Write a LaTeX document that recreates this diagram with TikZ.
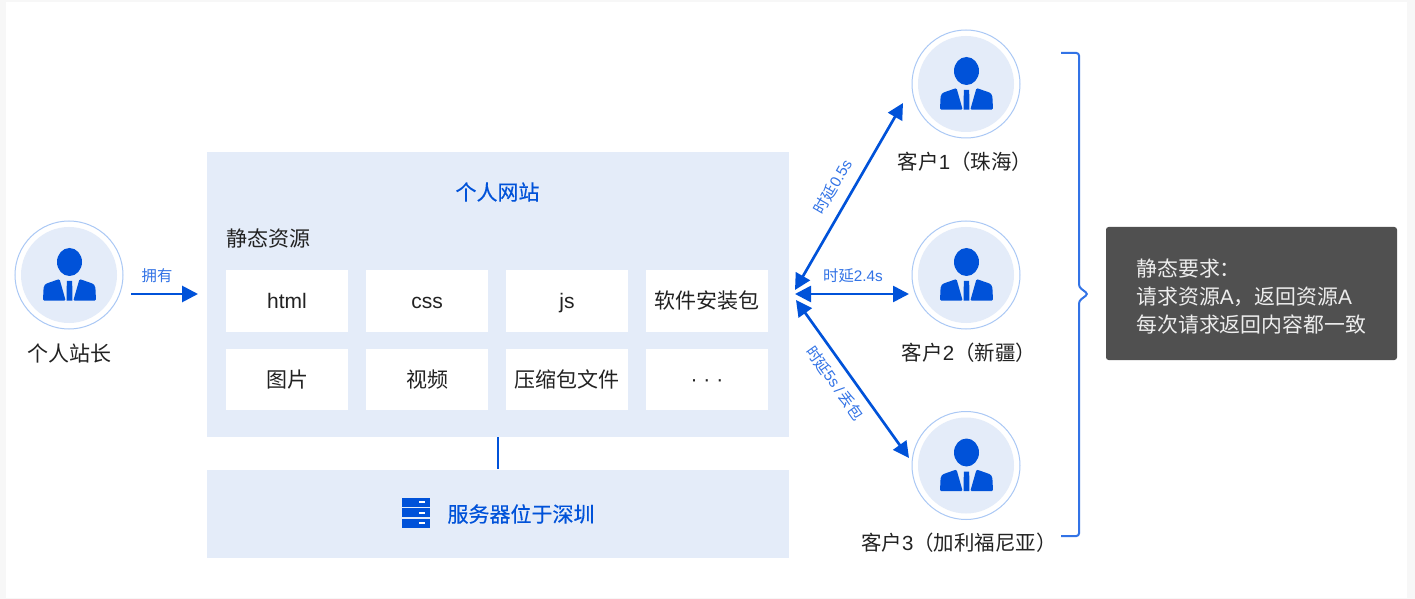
\documentclass[tikz,border=0pt]{standalone}
\usepackage{fontspec}
\setmainfont{Noto Sans CJK SC}
\newfontfamily\latinfont{Liberation Sans}
\newfontfamily\heavyfont[FakeBold=0.35]{Noto Sans CJK SC}
\usetikzlibrary{arrows.meta}
\definecolor{tcblue}{RGB}{0,82,217}
\definecolor{paleblue}{RGB}{228,236,249}
\definecolor{ringblue}{RGB}{170,200,245}
\definecolor{braceblue}{RGB}{50,115,230}
\definecolor{notegray}{RGB}{80,80,80}
\definecolor{inkblack}{RGB}{34,34,34}
\tikzset{every picture/.style={line width=0.75pt}}
\tikzset{
  panel/.style={fill=paleblue,draw=none,inner sep=0pt,minimum width=437pt,anchor=north west},
  tile/.style={fill=white,draw=none,inner sep=0pt,minimum width=91.5pt,minimum height=46pt,text=inkblack,font=\fontsize{15.75}{18}\selectfont},
  latintile/.style={tile,text height=11pt,text depth=0pt,font=\fontsize{15.75}{18}\selectfont\latinfont},
  caption/.style={text=inkblack,inner sep=0pt,font=\fontsize{15.75}{18}\selectfont},
  clientname/.style={caption,font=\fontsize{15.35}{18}\selectfont},
  delay/.style={text=braceblue,inner sep=0pt,font=\fontsize{11.5}{14}\selectfont},
  bluetitle/.style={text=tcblue,inner sep=0pt,font=\fontsize{15.75}{18}\selectfont\heavyfont},
  blueline/.style={draw=tcblue,line width=2.1pt,-{Triangle[length=12pt,width=12pt]}},
  bothways/.style={draw=tcblue,line width=2pt,{Triangle[length=12pt,width=12pt]}-{Triangle[length=12pt,width=12pt]}},
  person/.style={circle,draw=ringblue,line width=0.75pt,fill=white,minimum size=81pt,inner sep=0pt},
  person icon/.pic={
    \begin{scope}[yscale=-1]
    \fill[paleblue] (0,0) circle (48);
    \fill[tcblue] (0.5,-13) ellipse (12.5 and 14);
    \fill[tcblue,rounded corners=1pt] (-26,25.7) -- (-25.5,14) .. controls (-25,10) and (-23.5,9) .. (-21,8) -- (-9.5,4) -- (-3.3,25.7) -- cycle;
    \fill[tcblue,rounded corners=1pt] (27,25.7) -- (26.5,14) .. controls (26,10) and (24.5,9) .. (22,8) -- (10.5,4) -- (4.3,25.7) -- cycle;
    \fill[tcblue] (-2.2,6) -- (3.2,6) -- (3.4,25.7) -- (-2.4,25.7) -- cycle;
    \end{scope}
  }
}

\begin{document}
\begin{tikzpicture}[x=0.75pt,y=0.75pt,yscale=-1,xscale=1]
	\useasboundingbox (0,0) rectangle (1415,599);
	%page frame
	\fill[black!3] (0,0) rectangle (1415,599);
	\fill[white] (5.5,2.5) rectangle (1407,597.5);

	%website panel and server panel
	\node[panel,minimum height=213.4pt] (website) at (206,151.5) {};
	\node[panel,minimum height=66pt] (server) at (206,469) {};
	\draw[tcblue,line width=1.2pt] (website.south) -- (server.north);
	\node[bluetitle] (sitetitle) at (497.5,192) {个人网站};
	\node[caption,anchor=west] (statictitle) at (226,238) {静态资源};

	%tiles
	\node[latintile] (html) at (287,301) {html};
	\node[latintile] (cssfile) at (427,301) {css};
	\node[latintile] (jsfile) at (567,301) {js};
	\node[tile] (installer) at (707,301) {软件安装包};
	\node[tile] (picture) at (287,379.5) {图片};
	\node[tile] (video) at (427,379.5) {视频};
	\node[tile] (archive) at (567,379.5) {压缩包文件};
	\node[latintile] (others) at (707,379.5) {· · ·};

	%server icon
	\foreach \y in {498,508.4,518.8}{
		\fill[tcblue] (401.5,\y) rectangle (430,\y+8.9);
		\fill[white] (419,\y+3.4) rectangle (424.5,\y+5.4);
	}
	\node[bluetitle] (serverlabel) at (521,514) {服务器位于深圳};

	%people
	\node[person] (owner) at (69,275) {};
	\pic at (69,275) {person icon};
	\node[caption] (ownerlabel) at (69,353) {个人站长};
	\node[person] (clienta) at (966,84) {};
	\pic at (966,84) {person icon};
	\node[clientname] (clientalabel) at (965,162) {客户{\latinfont 1}（珠海）};
	\node[person] (clientb) at (966,275) {};
	\pic at (966,275) {person icon};
	\node[clientname] (clientblabel) at (969,353) {客户{\latinfont 2}（新疆）};
	\node[person] (clientc) at (966,465.5) {};
	\pic at (966,465.5) {person icon};
	\node[clientname] (clientclabel) at (959,543) {客户{\latinfont 3}（加利福尼亚）};

	%arrows
	\coordinate (ownerend) at (131,294);
	\coordinate (siteend) at (198,294);
	\coordinate (huba) at (795,290);
	\coordinate (hubb) at (795,294);
	\coordinate (hubc) at (796,300);
	\coordinate (enda) at (903,103);
	\coordinate (endb) at (909,294);
	\coordinate (endc) at (909,458);
	\draw[blueline] (ownerend) -- (siteend);
	\draw[bothways] (huba) -- (enda);
	\draw[bothways] (hubb) -- (endb);
	\draw[bothways] (hubc) -- (endc);
	\node[delay] (ownslabel) at (157,276) {拥有};
	\node[delay,rotate=60] (delaya) at (832.7,186.7) {时延{\latinfont 0.5s}};
	\node[delay] (delayb) at (853,276) {时延{\latinfont 2.4s}};
	\node[delay,rotate=-54.5] (delayc) at (835,383) {时延{\latinfont 5s\,/\,}丢包};

	%bracket
	\draw[draw=braceblue,line width=1.5pt,rounded corners=2pt] (1061,53) -- (1079,53) -- (1079,287) -- (1088,294) -- (1079,301) -- (1079,536) -- (1061,536);

	%note
	\fill[notegray,rounded corners=2pt] (1106,227) rectangle (1397,360);
	\node[text=white!93!black,anchor=north west,inner sep=0pt,align=left,font=\fontsize{15.65}{21}\selectfont] (note) at (1136,258) {静态要求：\\请求资源{\latinfont A}，返回资源{\latinfont A}\\每次请求返回内容都一致};
\end{tikzpicture}
\end{document}
